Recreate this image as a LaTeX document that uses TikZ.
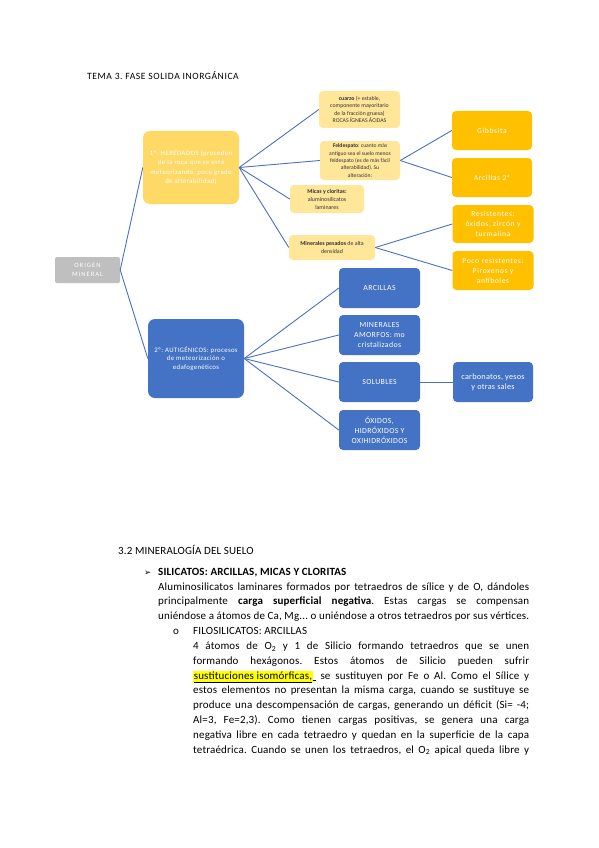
\documentclass[tikz,border=0pt]{standalone}
\usepackage{fontspec}
\setmainfont{Carlito}
\newfontfamily\symfont{DejaVu Sans}
\usepackage{xcolor}
\definecolor{cblue}{HTML}{4472C4}
\definecolor{cgold}{HTML}{FFD966}
\definecolor{clight}{HTML}{FFE699}
\definecolor{corange}{HTML}{FFC000}
\definecolor{cgray}{HTML}{BFBFBF}
\definecolor{cline}{HTML}{4A72C0}
\definecolor{hl}{HTML}{FFFF00}
\frenchspacing
\newcommand\bodyfont{\fontsize{11}{13}\selectfont\addfontfeature{LetterSpace=1.5}}
\newcommand\jl[2]{\makebox[#1pt][s]{#2}}
\tikzset{
  bx/.style={rounded corners=4pt, align=center, inner sep=1pt},
  bigbox/.style={bx, rounded corners=7pt, text=white, minimum width=96pt},
  lightbox/.style={bx, fill=clight, text=black!80, font=\fontsize{5.8}{7.5}\selectfont},
  orbox/.style={bx, fill=corange, text=white, minimum width=81pt, minimum height=39pt, font=\fontsize{7.6}{10}\selectfont\addfontfeature{LetterSpace=8}},
  bluebox/.style={bx, fill=cblue, text=white, minimum width=81pt, minimum height=40pt, font=\fontsize{7.8}{10}\selectfont\addfontfeature{LetterSpace=5}},
  conn/.style={draw=cline, line width=0.9pt},
  body/.style={anchor=base west, inner sep=0pt, font=\bodyfont}
}
\begin{document}
\begin{tikzpicture}[x=1pt,y=-1pt]
\useasboundingbox[fill=white] (0,0) rectangle (599,848);

\node[anchor=base west, inner sep=0pt, font=\fontsize{9.6}{11}\selectfont\addfontfeature{LetterSpace=6}] (title) at (87,80) {TEMA 3. FASE SOLIDA INORGÁNICA};

% main boxes
\node[bx, fill=cgray, text=white, minimum width=65pt, minimum height=26pt, rounded corners=2pt, font=\fontsize{6.6}{9.5}\selectfont\addfontfeature{LetterSpace=15}] (origen) at (87.5,270) {ORIGEN\\MINERAL};
\node[bigbox, fill=cgold, minimum height=73pt, font=\fontsize{6.7}{9.3}\selectfont\addfontfeature{LetterSpace=7}] (hered) at (191,167.5) {1º- HEREDADOS (proceden\\de la roca que se está\\meteorizando. poco grado\\de alterabilidad)};
\node[bigbox, fill=cblue, minimum height=79pt, font=\fontsize{6.8}{8.5}\selectfont\addfontfeature{LetterSpace=5}] (autig) at (196,358.5) {2º: AUTIGÉNICOS: procesos\\de meteorización o\\edafogenéticos};

% heredados children
\node[lightbox, minimum width=81pt, minimum height=37pt] (cuarzo) at (359.5,109.5) {\textbf{cuarzo} (+ estable,\\componente mayoritario\\de la fracción gruesa)\\ROCAS ÍGNEAS ÁCIDAS};
\node[lightbox, minimum width=80pt, minimum height=39pt, font=\fontsize{5.6}{7.3}\selectfont] (feld) at (360,160.5) {\textbf{Feldespato}: cuanto más\\antiguo sea el suelo menos\\feldespato (es de más fácil\\alterabilidad). Su\\alteración:};
\node[lightbox, minimum width=74pt, minimum height=28pt, font=\fontsize{5.9}{8}\selectfont] (micas) at (327,199) {\textbf{Micas y cloritas:}\\aluminosilicatos\\laminares};
\node[lightbox, minimum width=86pt, minimum height=25pt, font=\fontsize{5.9}{8.5}\selectfont] (pes) at (332,247.5) {\textbf{Minerales pesados} de alta\\densidad};

% orange boxes
\node[orbox, minimum width=80pt] (gibb) at (492,130.5) {Gibbsita};
\node[orbox, minimum width=80pt] (arc2) at (492,177.5) {Arcillas 2ª};
\node[orbox, minimum height=38pt] (resis) at (493,224) {Resistentes:\\óxidos, zircón y\\turmalina};
\node[orbox] (poco) at (493,270.5) {Poco resistentes:\\Piroxenos y\\anfíboles};

% blue boxes
\node[bluebox] (arcil) at (379.5,288) {ARCILLAS};
\node[bluebox] (amorf) at (379.5,335) {MINERALES\\AMORFOS: mo\\cristalizados};
\node[bluebox] (solub) at (379.5,382) {SOLUBLES};
\node[bluebox] (oxid) at (379.5,430) {ÓXIDOS,\\HIDRÓXIDOS Y\\OXIHIDRÓXIDOS};
\node[bluebox, minimum width=80pt, font=\fontsize{8.2}{10}\selectfont\addfontfeature{LetterSpace=3}] (carb) at (493,382) {carbonatos, yesos\\y otras sales};

% connectors
\draw[conn] (origen.east) -- (hered.west);
\draw[conn] (origen.east) -- (autig.west);
\foreach \t in {cuarzo,feld,micas,pes} \draw[conn] (hered.east) -- (\t.west);
\foreach \t in {gibb,arc2} \draw[conn] (feld.east) -- (\t.west);
\foreach \t in {resis,poco} \draw[conn] (pes.east) -- (\t.west);
\foreach \t in {arcil,amorf,solub,oxid} \draw[conn] (autig.east) -- (\t.west);
\draw[conn] (solub.east) -- (carb.west);

% lower text
\node[body] (h32) at (118,554) {3.2 MINERALOGÍA DEL SUELO};
\node[body, font=\symfont\fontsize{8.5}{10}\selectfont] (bul1) at (144,575.5) {➢};
\node[body, font=\bodyfont\bfseries] (sil) at (158,575.5) {SILICATOS: ARCILLAS, MICAS Y CLORITAS};
\node[body] (p1a) at (158,590) {\jl{371}{Aluminosilicatos laminares formados por tetraedros de sílice y de O, dándoles}};
\node[body] (p1b) at (158,604.7) {\jl{371}{principalmente \textbf{carga superficial negativa}. Estas cargas se compensan}};
\node[body] (p1c) at (158,619.4) {\jl{371}{uniéndose a átomos de Ca, Mg... o uniéndose a otros tetraedros por sus vértices.}};
\node[body] (bul2) at (173,634.5) {o};
\node[body] (filo) at (193,634.5) {FILOSILICATOS: ARCILLAS};
\node[body] (p2a) at (193,649.5) {\jl{336}{4 átomos de O\textsubscript{2} y 1 de Silicio formando tetraedros que se unen}};
\node[body] (p2b) at (193,664.3) {\jl{336}{formando hexágonos. Estos átomos de Silicio pueden sufrir}};
\node[body] (p2c) at (193,679.1) {\jl{336}{{\fboxsep=0.6pt\colorbox{hl}{\underline{sustituciones isomórficas,}}}\underline{\hspace{3pt}} se sustituyen por Fe o Al. Como el Sílice y}};
\node[body] (p2d) at (193,693.9) {\jl{336}{estos elementos no presentan la misma carga, cuando se sustituye se}};
\node[body] (p2e) at (193,708.7) {\jl{336}{produce una descompensación de cargas, generando un déficit (Si= -4;}};
\node[body] (p2f) at (193,723.5) {\jl{336}{Al=3, Fe=2,3). Como tienen cargas positivas, se genera una carga}};
\node[body] (p2g) at (193,738.3) {\jl{336}{negativa libre en cada tetraedro y quedan en la superficie de la capa}};
\node[body] (p2h) at (193,753.1) {\jl{336}{tetraédrica. Cuando se unen los tetraedros, el O\textsubscript{2} apical queda libre y}};
\end{tikzpicture}
\end{document}
